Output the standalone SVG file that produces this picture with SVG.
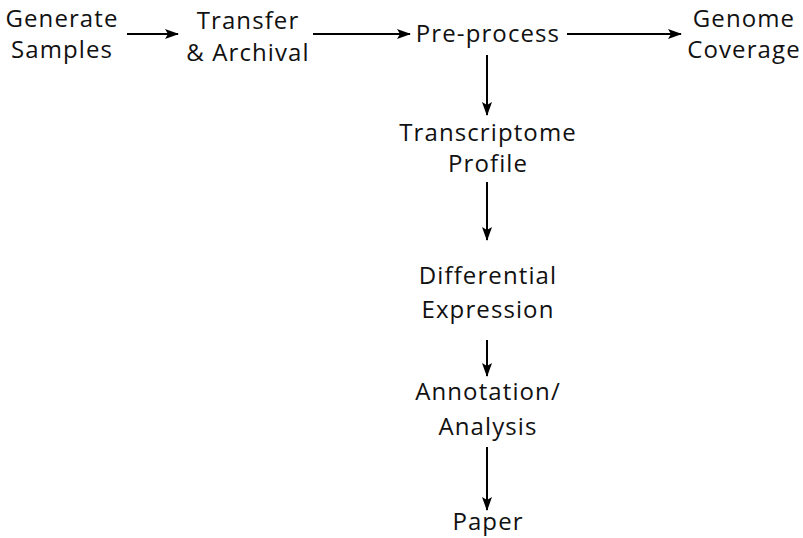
<svg xmlns="http://www.w3.org/2000/svg" width="803" height="538" viewBox="0 0 803 538">
<style>
text{font-family:"Open Sans","Noto Sans","DejaVu Sans",sans-serif;font-size:24px;letter-spacing:1.1px;fill:#111;text-anchor:middle}
.c line{stroke:#000;stroke-width:2;fill:none}
</style>
<defs>
<marker id="ah" markerWidth="14" markerHeight="10" refX="13" refY="5" orient="auto" markerUnits="userSpaceOnUse">
<path d="M0,0 L14,5 L0,10 L3,5 Z" fill="#000"/>
</marker>
</defs>
<rect width="803" height="538" fill="#fff"/>
<g class="c" id="connectors">
<line x1="127" y1="34" x2="178" y2="34" marker-end="url(#ah)"/>
<line x1="313" y1="34" x2="410" y2="34" marker-end="url(#ah)"/>
<line x1="567" y1="34" x2="681" y2="34" marker-end="url(#ah)"/>
<line x1="487" y1="55" x2="487" y2="115" marker-end="url(#ah)"/>
<line x1="487" y1="182" x2="487" y2="240" marker-end="url(#ah)"/>
<line x1="487" y1="340" x2="487" y2="376" marker-end="url(#ah)"/>
<line x1="487" y1="447" x2="487" y2="510" marker-end="url(#ah)"/>
</g>
<g id="generate"><text x="62" y="27">Generate</text><text x="62" y="58">Samples</text></g>
<g id="transfer"><text x="248" y="29">Transfer</text><text x="248" y="61">&amp; Archival</text></g>
<g id="preprocess"><text x="488" y="42">Pre-process</text></g>
<g id="genome"><text x="744" y="27">Genome</text><text x="744" y="58">Coverage</text></g>
<g id="transcriptome"><text x="488" y="141">Transcriptome</text><text x="488" y="172">Profile</text></g>
<g id="differential"><text x="488" y="284">Differential</text><text x="488" y="318">Expression</text></g>
<g id="annotation"><text x="488" y="400">Annotation/</text><text x="488" y="435">Analysis</text></g>
<g id="paper"><text x="488" y="530">Paper</text></g>
</svg>
